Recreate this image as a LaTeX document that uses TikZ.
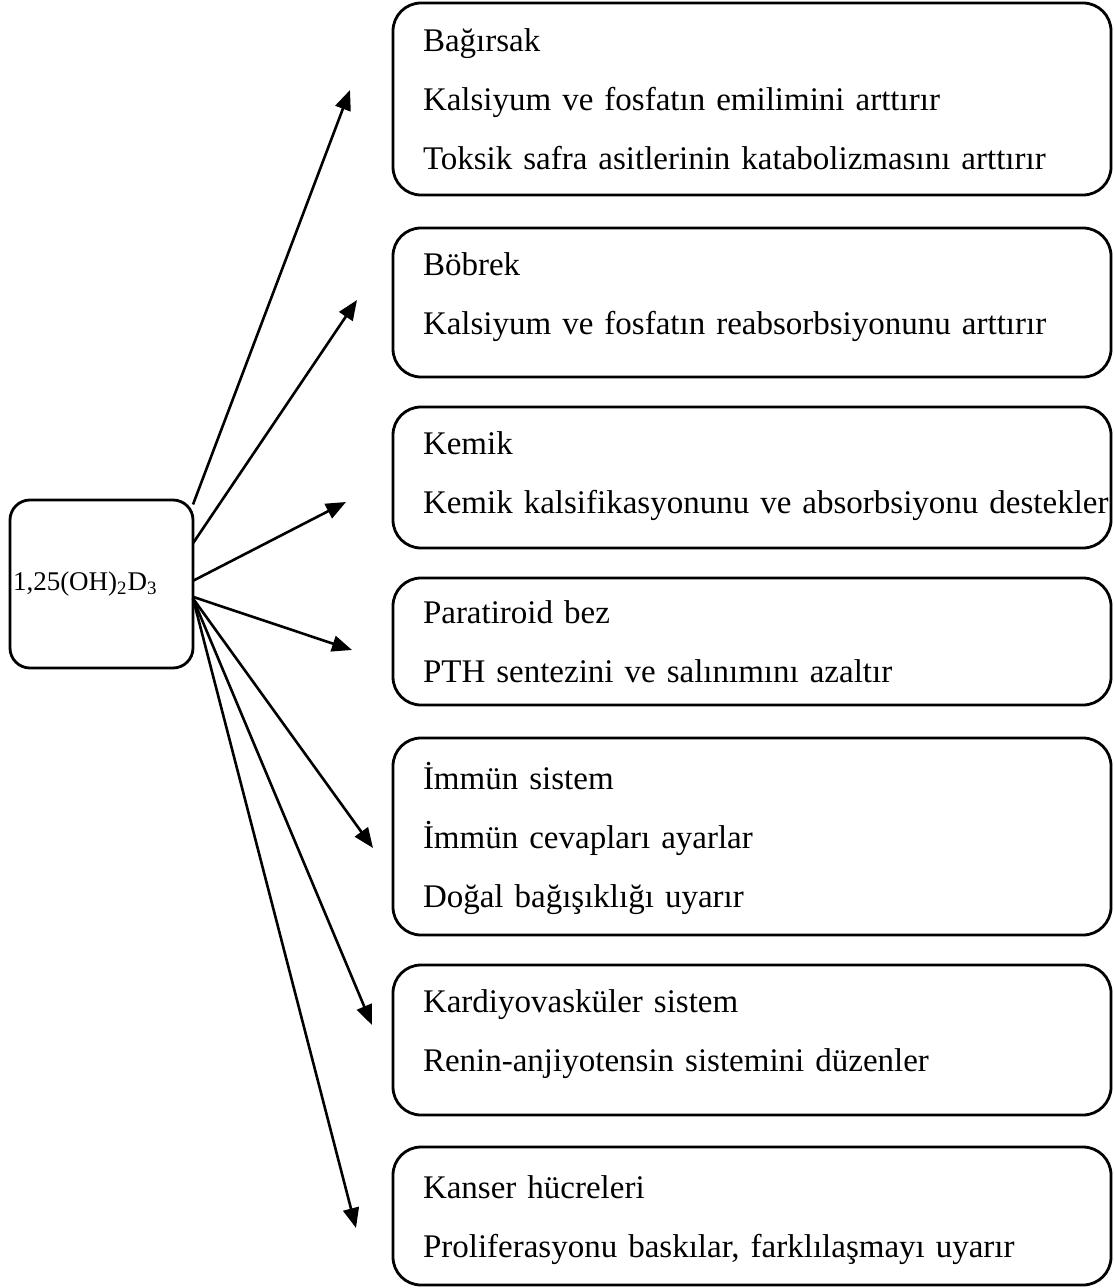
\documentclass[tikz,border=0pt]{standalone}
\usepackage{fontspec}
\setmainfont{Liberation Serif}
\usetikzlibrary{arrows.meta}
\newcommand{\lowpad}[1]{\rule[-#1]{0pt}{#1}}
\begin{document}
\begin{tikzpicture}
	[x=0.5pt,y=-0.5pt,
	organ/.style={draw,line width=1.4pt,rounded corners=14pt,anchor=north west,outer sep=0pt,
		minimum width=359pt,text width=329pt,inner xsep=15pt,inner ysep=0pt,align=left,
		font=\fontsize{16.5}{29.5}\selectfont,execute at begin node=\strut,execute at end node=\strut},
	vitd/.style={draw,line width=1.4pt,rounded corners=10pt,anchor=north west,outer sep=0pt,
		minimum width=91.5pt,minimum height=84pt,text width=88.5pt,inner xsep=1.5pt,align=left,
		font=\fontsize{13.5}{16}\selectfont},
	effect/.style={-{Triangle[length=10pt,width=8pt]},line width=1.3pt}]
	\useasboundingbox (0,0) rectangle (1113,1288);
	% source
	\node[vitd,name=vit] at (10,500) {1,25(OH)\textsubscript{2}D\textsubscript{3}};
	% target organs
	\node[organ,minimum height=96pt,name=bagirsak] at (393,3)
		{Bağırsak\\Kalsiyum ve fosfatın emilimini arttırır\\Toksik safra asitlerinin katabolizmasını arttırır};
	\node[organ,minimum height=74.5pt,name=bobrek] at (393,228)
		{Böbrek\\Kalsiyum ve fosfatın reabsorbsiyonunu arttırır\lowpad{18pt}};
	\node[organ,minimum height=70.5pt,name=kemik] at (393,407)
		{Kemik\\\mbox{Kemik kalsifikasyonunu ve absorbsiyonu destekler}\lowpad{14pt}};
	\node[organ,minimum height=63.5pt,name=paratiroid] at (393,578)
		{Paratiroid bez\\PTH sentezini ve salınımını azaltır};
	\node[organ,minimum height=98.5pt,name=immun] at (393,738)
		{İmmün sistem\\İmmün cevapları ayarlar\\Doğal bağışıklığı uyarır};
	\node[organ,minimum height=75pt,name=kardiyo] at (393,965)
		{Kardiyovasküler sistem\\Renin-anjiyotensin sistemini düzenler\lowpad{19pt}};
	\node[organ,minimum height=69pt,name=kanser] at (393,1147)
		{Kanser hücreleri\\Proliferasyonu baskılar, farklılaşmayı uyarır};
	% arrow tips
	\coordinate (u1) at (350,90);
	\coordinate (u2) at (357,300);
	\coordinate (u3) at (346,502);
	\coordinate (u4) at (352,650);
	\coordinate (u5) at (373,848);
	\coordinate (u6) at (372,1025);
	\coordinate (u7) at (356,1228);
	\foreach \a/\u in {41/u1,24/u2,2.5/u3,352.5/u4,351/u5,351/u6,351/u7}
	{
		\draw[effect] (vit.\a) -- (\u);
	}
\end{tikzpicture}
\end{document}
